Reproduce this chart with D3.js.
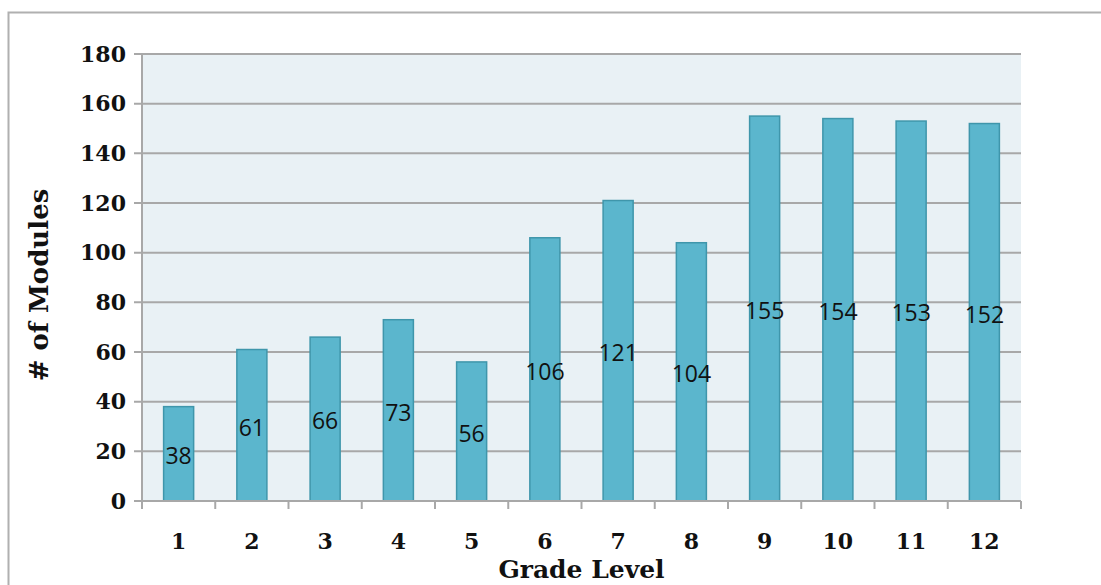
<!DOCTYPE html>
<html>
<head>
<meta charset="utf-8">
<script src="https://cdn.jsdelivr.net/npm/d3@7"></script>
<style>
  body { margin: 0; background: #fff; }
  svg { display: block; }
</style>
</head>
<body>
<div id="chart"></div>
<script>
// Modules per grade level
const grades = ['1', '2', '3', '4', '5', '6', '7', '8', '9', '10', '11', '12'];
const modules = [38, 61, 66, 73, 56, 106, 121, 104, 155, 154, 153, 152];
const yTicks = [0, 20, 40, 60, 80, 100, 120, 140, 160, 180];

const W = 1101, H = 585;
const margin = { top: 54, right: 80, bottom: 84, left: 142 };
const width = W - margin.left - margin.right;
const height = H - margin.top - margin.bottom;

const svg = d3.select('#chart').append('svg')
    .attr('width', W)
    .attr('height', H);

// outer frame
svg.append('rect')
    .attr('x', 8.5).attr('y', 12.5)
    .attr('width', W + 10).attr('height', H + 10)
    .attr('fill', 'none')
    .attr('stroke', '#b0b0b0')
    .attr('stroke-width', 2);

const g = svg.append('g')
    .attr('transform', `translate(${margin.left},${margin.top})`);

const x = d3.scaleBand()
    .domain(grades)
    .range([0, width])
    .paddingInner(0.59)
    .paddingOuter(0.295);

const y = d3.scaleLinear()
    .domain([0, 180])
    .range([height, 0]);

// plot background
g.append('rect')
    .attr('width', width)
    .attr('height', height)
    .attr('fill', '#e9f1f5');

// gridlines + y ticks
g.append('g')
    .selectAll('line')
    .data(yTicks)
    .join('line')
    .attr('x1', -8)
    .attr('x2', width)
    .attr('y1', d => y(d))
    .attr('y2', d => y(d))
    .attr('stroke', '#a8a8a8')
    .attr('stroke-width', 2);

const serif = "'DejaVu Serif', serif";

const yAxis = g.append('g')
    .call(d3.axisLeft(y).tickValues(yTicks).tickSize(0).tickPadding(16));
yAxis.select('.domain').remove();
yAxis.selectAll('text')
    .attr('font-family', serif)
    .attr('font-weight', 'bold')
    .attr('font-size', 22)
    .attr('fill', '#111');

// left axis line
g.append('line')
    .attr('x1', 0).attr('x2', 0)
    .attr('y1', 0).attr('y2', height)
    .attr('stroke', '#a8a8a8')
    .attr('stroke-width', 2);

// bars
g.append('g')
    .selectAll('rect')
    .data(grades)
    .join('rect')
    .attr('x', (d) => x(d))
    .attr('width', x.bandwidth())
    .attr('y', (d, i) => y(modules[i]))
    .attr('height', (d, i) => height - y(modules[i]))
    .attr('fill', '#5bb6cd')
    .attr('stroke', '#3f96ab')
    .attr('stroke-width', 1.5);

// x axis with boundary ticks
const bounds = d3.range(grades.length + 1).map(i => i * width / grades.length);
g.append('line')
    .attr('x1', 0).attr('x2', width)
    .attr('y1', height).attr('y2', height)
    .attr('stroke', '#a8a8a8')
    .attr('stroke-width', 2);
g.append('g')
    .selectAll('line')
    .data(bounds)
    .join('line')
    .attr('x1', d => d).attr('x2', d => d)
    .attr('y1', height).attr('y2', height + 8)
    .attr('stroke', '#a8a8a8')
    .attr('stroke-width', 2);

const xAxis = g.append('g')
    .attr('transform', `translate(0,${height})`)
    .call(d3.axisBottom(x).tickSize(0).tickPadding(32));
xAxis.select('.domain').remove();
xAxis.selectAll('text')
    .attr('font-family', serif)
    .attr('font-weight', 'bold')
    .attr('font-size', 22)
    .attr('fill', '#111');

// value labels, centred in each bar
g.append('g')
    .selectAll('text')
    .data(grades)
    .join('text')
    .attr('x', d => x(d) + x.bandwidth() / 2)
    .attr('y', (d, i) => (y(modules[i]) + height) / 2)
    .attr('dy', '0.45em')
    .attr('text-anchor', 'middle')
    .attr('font-family', "'Open Sans', sans-serif")
    .attr('font-size', 23)
    .attr('fill', '#111')
    .text((d, i) => modules[i]);

// axis titles
svg.append('text')
    .attr('x', margin.left + width / 2)
    .attr('y', 578)
    .attr('text-anchor', 'middle')
    .attr('font-family', serif)
    .attr('font-weight', 'bold')
    .attr('font-size', 25)
    .attr('fill', '#111')
    .text('Grade Level');

svg.append('text')
    .attr('transform', `translate(48,285) rotate(-90)`)
    .attr('text-anchor', 'middle')
    .attr('font-family', serif)
    .attr('font-weight', 'bold')
    .attr('font-size', 26)
    .attr('fill', '#111')
    .text('# of Modules');
</script>
</body>
</html>
